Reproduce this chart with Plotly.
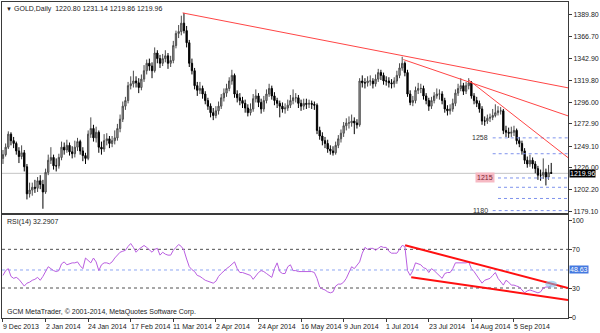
import plotly.graph_objects as go

# ---------------- data ----------------
date_labels = ["9 Dec 2013", "2 Jan 2014", "24 Jan 2014", "17 Feb 2014", "11 Mar 2014",
               "2 Apr 2014", "24 Apr 2014", "16 May 2014", "9 Jun 2014", "1 Jul 2014",
               "23 Jul 2014", "14 Aug 2014", "5 Sep 2014"]
date_label_bars = [0, 16, 32, 48, 64, 80, 96, 112, 128, 144, 160, 176, 192]

opens = [1236,1240,1248,1262,1255,1252,1244,1238,1242,1227,
         1198,1202,1205,1204,1212,1208,1200,1221,1234,1237,
         1228,1228,1237,1248,1245,1250,1243,1241,1248,1254,
         1244,1239,1236,1262,1268,1258,1264,1248,1246,1255,
         1257,1252,1255,1258,1268,1278,1292,1298,1314,1316,
         1319,1317,1312,1321,1330,1338,1335,1330,1349,1343,
         1338,1343,1346,1338,1341,1357,1370,1372,1381,1373,
         1360,1338,1330,1314,1309,1311,1305,1298,1292,1285,
         1282,1287,1292,1301,1306,1311,1319,1325,1305,1301,
         1298,1295,1290,1285,1289,1300,1303,1296,1289,1298,
         1305,1311,1303,1298,1295,1292,1289,1290,1293,1298,
         1301,1301,1295,1292,1295,1294,1295,1294,1293,1266,
         1260,1255,1252,1246,1244,1242,1250,1257,1263,1271,
         1274,1274,1276,1274,1272,1319,1317,1317,1319,1319,
         1316,1321,1328,1325,1319,1319,1317,1316,1319,1325,
         1333,1338,1328,1305,1296,1298,1309,1311,1311,1303,
         1298,1292,1298,1303,1305,1305,1298,1289,1287,1289,
         1295,1306,1311,1314,1308,1314,1317,1303,1298,1295,
         1289,1276,1276,1279,1280,1282,1285,1287,1287,1266,
         1264,1263,1264,1266,1255,1252,1244,1234,1230,1234,
         1230,1225,1218,1218,1221,1216,1220.80]

highs = [1245,1252,1265,1264,1259,1254,1248,1250,1245,1230,
         1210,1210,1213,1216,1218,1213,1225,1240,1248,1240,
         1236,1241,1254,1253,1256,1253,1249,1255,1258,1256,
         1248,1242,1266,1280,1272,1270,1266,1254,1262,1263,
         1260,1260,1266,1273,1283,1297,1302,1318,1324,1330,
         1324,1322,1326,1336,1342,1343,1339,1355,1352,1347,
         1348,1352,1349,1346,1362,1373,1379,1389,1392,1378,
         1363,1343,1333,1318,1318,1314,1308,1301,1295,1290,
         1292,1297,1305,1311,1316,1323,1331,1327,1309,1306,
         1302,1299,1294,1295,1305,1310,1306,1300,1303,1310,
         1316,1314,1307,1301,1298,1296,1295,1299,1304,1310,
         1306,1304,1299,1300,1300,1299,1298,1297,1295,1270,
         1264,1259,1256,1250,1249,1254,1261,1267,1275,1279,
         1281,1283,1280,1278,1322,1325,1322,1324,1325,1322,
         1326,1332,1331,1328,1324,1323,1321,1323,1330,1338,
         1345,1340,1331,1309,1303,1313,1317,1316,1314,1306,
         1301,1302,1307,1311,1310,1308,1301,1293,1294,1300,
         1310,1316,1322,1317,1318,1322,1319,1306,1302,1298,
         1292,1281,1283,1284,1289,1294,1292,1291,1289,1271,
         1269,1270,1271,1268,1259,1255,1247,1238,1240,1237,
         1233,1228,1224,1236,1225,1229,1231.14]

lows = [1230,1238,1246,1250,1247,1240,1231,1235,1222,1192,
        1194,1196,1199,1200,1203,1182,1198,1218,1230,1224,
        1222,1225,1234,1240,1242,1239,1236,1237,1244,1240,
        1233,1230,1234,1258,1254,1253,1242,1240,1243,1250,
        1247,1248,1251,1255,1264,1275,1288,1295,1310,1312,
        1312,1306,1309,1318,1326,1330,1322,1328,1338,1333,
        1335,1339,1332,1334,1338,1354,1365,1368,1370,1355,
        1334,1326,1310,1303,1305,1300,1294,1288,1280,1277,
        1279,1283,1289,1297,1302,1308,1315,1301,1296,1293,
        1290,1285,1281,1282,1286,1296,1291,1284,1286,1295,
        1302,1299,1293,1290,1280,1285,1284,1287,1290,1294,
        1296,1290,1287,1288,1289,1290,1289,1288,1262,1256,
        1250,1247,1242,1240,1239,1240,1247,1253,1259,1266,
        1268,1270,1262,1268,1270,1312,1311,1313,1314,1311,
        1313,1318,1320,1315,1314,1312,1311,1312,1316,1322,
        1330,1324,1302,1293,1292,1295,1305,1306,1299,1294,
        1287,1289,1295,1300,1299,1294,1285,1282,1283,1286,
        1292,1303,1308,1304,1305,1310,1300,1294,1291,1285,
        1272,1271,1273,1275,1277,1280,1282,1283,1262,1259,
        1258,1259,1260,1251,1248,1240,1230,1226,1227,1225,
        1220,1213,1212,1214,1207,1213,1219.86]

closes = [1240,1248,1262,1255,1252,1244,1238,1242,1227,1198,
          1202,1205,1204,1212,1208,1200,1221,1234,1237,1228,
          1228,1237,1248,1245,1250,1243,1241,1248,1254,1244,
          1239,1236,1262,1268,1258,1264,1248,1246,1255,1257,
          1252,1255,1258,1268,1278,1292,1298,1314,1316,1319,
          1317,1312,1321,1330,1338,1335,1330,1349,1343,1338,
          1343,1346,1338,1341,1357,1370,1372,1381,1373,1360,
          1338,1330,1314,1309,1311,1305,1298,1292,1285,1282,
          1287,1292,1301,1306,1311,1319,1325,1305,1301,1298,
          1295,1290,1285,1289,1300,1303,1296,1289,1298,1305,
          1311,1303,1298,1295,1292,1289,1290,1293,1298,1301,
          1301,1295,1292,1295,1294,1295,1294,1293,1266,1260,
          1255,1252,1246,1244,1242,1250,1257,1263,1271,1274,
          1274,1276,1274,1272,1319,1317,1317,1319,1319,1316,
          1321,1328,1325,1319,1319,1317,1316,1319,1325,1333,
          1338,1328,1305,1296,1298,1309,1311,1311,1303,1298,
          1292,1298,1303,1305,1305,1298,1289,1287,1289,1295,
          1306,1311,1314,1308,1314,1317,1303,1298,1295,1289,
          1276,1276,1279,1280,1282,1285,1287,1287,1266,1264,
          1263,1264,1266,1255,1252,1244,1234,1230,1234,1230,
          1225,1218,1218,1221,1216,1220.80,1219.96]

rsi = [43,48,50,42,40,41,39,36,32,35,
       36,38,39,41,38,42,47,52,50,48,
       47,48,55,57,54,55,56,56,57,53,
       50,61,58,56,61,57,48,54,56,56,
       55,57,61,64,67,68,69,73,76,72,
       67,70,72,74,72,69,67,70,71,64,
       67,65,64,64,69,72,75,73,69,60,
       52,49,47,43,42,40,38,37,36,35,
       37,42,45,48,50,52,55,57,50,46,
       46,45,44,43,39,43,46,48,47,45,
       43,41,50,56,47,45,45,52,54,48,
       48,47,47,47,47,47,47,46,40,31,
       29,28,26,25,26,32,34,34,36,40,
       46,52,50,53,57,66,72,70,71,71,
       69,71,73,72,72,68,66,66,66,70,
       74,73,48,43,48,56,55,54,51,50,
       46,50,48,45,43,40,45,46,46,50,
       56,56,56,56,56,57,50,47,43,39,
       35,38,39,40,43,46,40,36,33,38,
       36,33,33,32,31,28,25,27,28,27,
       26,25,26,30,31,31,32.29]

price_ticks = [1389.80, 1366.70, 1342.90, 1319.80, 1296.00, 1272.90, 1249.10, 1226.00, 1202.20, 1179.10]
rsi_ticks = [0, 30, 70, 100]
rsi_levels_gray = [70, 30]
rsi_level_blue = 48.63
last_price = 1219.96
last_rsi_text = "32.2907"

# horizontal dotted support levels: (price, start bar)
level_prices = [1258, 1241, 1215, 1205, 1193, 1180]
level_starts = [184, 184, 186, 186, 186, 184]
level_labels = {1258: "1258", 1215: "1215", 1180: "1180"}

# trendlines on price: two anchor points each (bar, price), extended to right edge
price_trend_a = [(67.5, 1392), (150.4, 1342), (175.0, 1320)]
price_trend_b = [(150.4, 1346), (175.0, 1318), (188.0, 1291)]
# trendlines on RSI
rsi_trend_a = [(151.1, 74.2), (153.4, 41.2)]
rsi_trend_b = [(212.3, 30.0), (212.3, 17.5)]

X_MIN, X_MAX = -0.37, 212.3
Y_MIN, Y_MAX = 1177.0, 1403.7
R_MIN, R_MAX = -1.03, 105.2

bars = list(range(len(closes)))
FONT = "Liberation Sans"

fig = go.Figure()
fig.add_trace(go.Candlestick(
    x=bars, open=opens, high=highs, low=lows, close=closes,
    increasing=dict(line=dict(color="#4a4a4a", width=1), fillcolor="#b4b4b4"),
    decreasing=dict(line=dict(color="#000000", width=1), fillcolor="#000000"),
    whiskerwidth=0, xaxis="x", yaxis="y", showlegend=False, hoverinfo="skip"))

fig.add_trace(go.Scatter(x=bars, y=rsi, mode="lines",
                         line=dict(color="#b95ee0", width=1),
                         xaxis="x2", yaxis="y2", showlegend=False, hoverinfo="skip"))

shapes = []
# bid line
shapes.append(dict(type="line", xref="x domain", yref="y", x0=0, x1=1, y0=last_price, y1=last_price,
                   line=dict(color="#c4c4c4", width=1), layer="below"))
# dotted levels
for p, s in zip(level_prices, level_starts):
    shapes.append(dict(type="line", xref="x", yref="y", x0=s, x1=X_MAX, y0=p, y1=p,
                       line=dict(color="#7f93ec", width=1, dash="dot")))
# price trendlines (ray to right edge)
for (xa, ya), (xb, yb) in zip(price_trend_a, price_trend_b):
    slope = (yb - ya) / (xb - xa)
    shapes.append(dict(type="line", xref="x", yref="y", x0=xa, y0=ya, x1=X_MAX,
                       y1=ya + slope * (X_MAX - xa), line=dict(color="#ff4545", width=1)))
# RSI levels
for lv in rsi_levels_gray:
    shapes.append(dict(type="line", xref="x2 domain", yref="y2", x0=0, x1=1, y0=lv, y1=lv,
                       line=dict(color="#505050", width=1, dash="dot"), layer="below"))
shapes.append(dict(type="line", xref="x2 domain", yref="y2", x0=0, x1=1, y0=rsi_level_blue, y1=rsi_level_blue,
                   line=dict(color="#8fa6f2", width=1, dash="dot"), layer="below"))
# RSI trendlines
for (xa, ya), (xb, yb) in zip(rsi_trend_a, rsi_trend_b):
    shapes.append(dict(type="line", xref="x2", yref="y2", x0=xa, y0=ya, x1=xb, y1=yb,
                       line=dict(color="#ff1010", width=2)))
# highlight ellipse on last RSI value
shapes.append(dict(type="circle", xref="x2", yref="y2", x0=203.8, x1=208.2, y0=30.5, y1=37.5,
                   fillcolor="rgba(120,190,235,0.55)", line=dict(width=0)))

ann = []
ann.append(dict(text="▼", xref="paper", yref="paper", x=0, y=1, xanchor="left", yanchor="top",
                xshift=2, yshift=-2, showarrow=False, font=dict(family=FONT, size=6, color="#222")))
ann.append(dict(text="GOLD,Daily  1220.80 1231.14 1219.86 1219.96", xref="paper", yref="paper",
                x=0, y=1, xanchor="left", yanchor="top", xshift=10, yshift=-1, showarrow=False,
                font=dict(family=FONT, size=7, color="#222")))
ann.append(dict(text="RSI(14) " + last_rsi_text, xref="paper", yref="y2", x=0, y=R_MAX,
                xanchor="left", yanchor="top", xshift=3, yshift=-1, showarrow=False,
                font=dict(family=FONT, size=7, color="#222")))
ann.append(dict(text="GCM MetaTrader, © 2001-2014, MetaQuotes Software Corp.", xref="paper", yref="y2",
                x=0, y=R_MIN, xanchor="left", yanchor="bottom", xshift=3, yshift=0, showarrow=False,
                font=dict(family=FONT, size=7, color="#222")))
for lbl, b in zip(date_labels, date_label_bars):
    ann.append(dict(text=lbl, xref="x2", yref="paper", x=b, y=0, xanchor="left", yanchor="top",
                    xshift=-2, yshift=-3, showarrow=False, font=dict(family=FONT, size=7, color="#222")))
for p in level_prices:
    if p in level_labels:
        ann.append(dict(text=level_labels[p], xref="x", yref="y", x=level_starts[level_prices.index(p)], y=p,
                        xanchor="right", yanchor="middle", xshift=-3, showarrow=False,
                        bgcolor="#f6b9c3" if p == 1215 else "rgba(0,0,0,0)",
                        font=dict(family=FONT, size=7, color="#7a2030" if p == 1215 else "#333")))
# RSI scale labels (drawn as text so the edge labels 0 and 100 always show)
for v in rsi_ticks:
    ann.append(dict(text=str(v), xref="paper", yref="y2", x=1, y=v, xanchor="left", yanchor="middle",
                    xshift=3, showarrow=False, borderpad=0, font=dict(family=FONT, size=7, color="#222")))
ann.append(dict(text="%.2f" % last_price, xref="paper", yref="y", x=1, y=last_price, xanchor="left",
                yanchor="middle", xshift=1, showarrow=False, bgcolor="#000000", borderpad=0,
                font=dict(family=FONT, size=7, color="#ffffff")))
ann.append(dict(text="%.2f" % rsi_level_blue, xref="paper", yref="y2", x=1, y=rsi_level_blue, xanchor="left",
                yanchor="middle", xshift=1, showarrow=False, bgcolor="#4479e0", borderpad=0,
                font=dict(family=FONT, size=7, color="#ffffff")))

axis_common = dict(showgrid=False, zeroline=False, showline=True, mirror=True, linecolor="#3a3a3a", linewidth=1)
fig.update_layout(
    width=600, height=333, autosize=False,
    margin=dict(l=1, r=29, t=1, b=15),
    paper_bgcolor="white", plot_bgcolor="white",
    xaxis=dict(domain=[0, 1], range=[X_MIN, X_MAX], anchor="y", showticklabels=False,
               rangeslider=dict(visible=False), **axis_common),
    yaxis=dict(domain=[0.331, 1], range=[Y_MIN, Y_MAX], side="right", anchor="x",
               tickvals=price_ticks, ticktext=["%.2f" % v for v in price_ticks],
               ticks="outside", ticklen=3, tickcolor="#3a3a3a", ticklabeloverflow="allow",
               tickfont=dict(family=FONT, size=7, color="#222"), **axis_common),
    xaxis2=dict(domain=[0, 1], range=[X_MIN, X_MAX], anchor="y2", showticklabels=False,
                tickvals=date_label_bars, ticks="outside", ticklen=3, tickcolor="#3a3a3a", **axis_common),
    yaxis2=dict(domain=[0, 0.325], range=[R_MIN, R_MAX], side="right", anchor="x2",
                tickvals=rsi_ticks, showticklabels=False,
                ticks="outside", ticklen=3, tickcolor="#3a3a3a", **axis_common),
    shapes=shapes, annotations=ann,
)

fig.write_html("out.html")
